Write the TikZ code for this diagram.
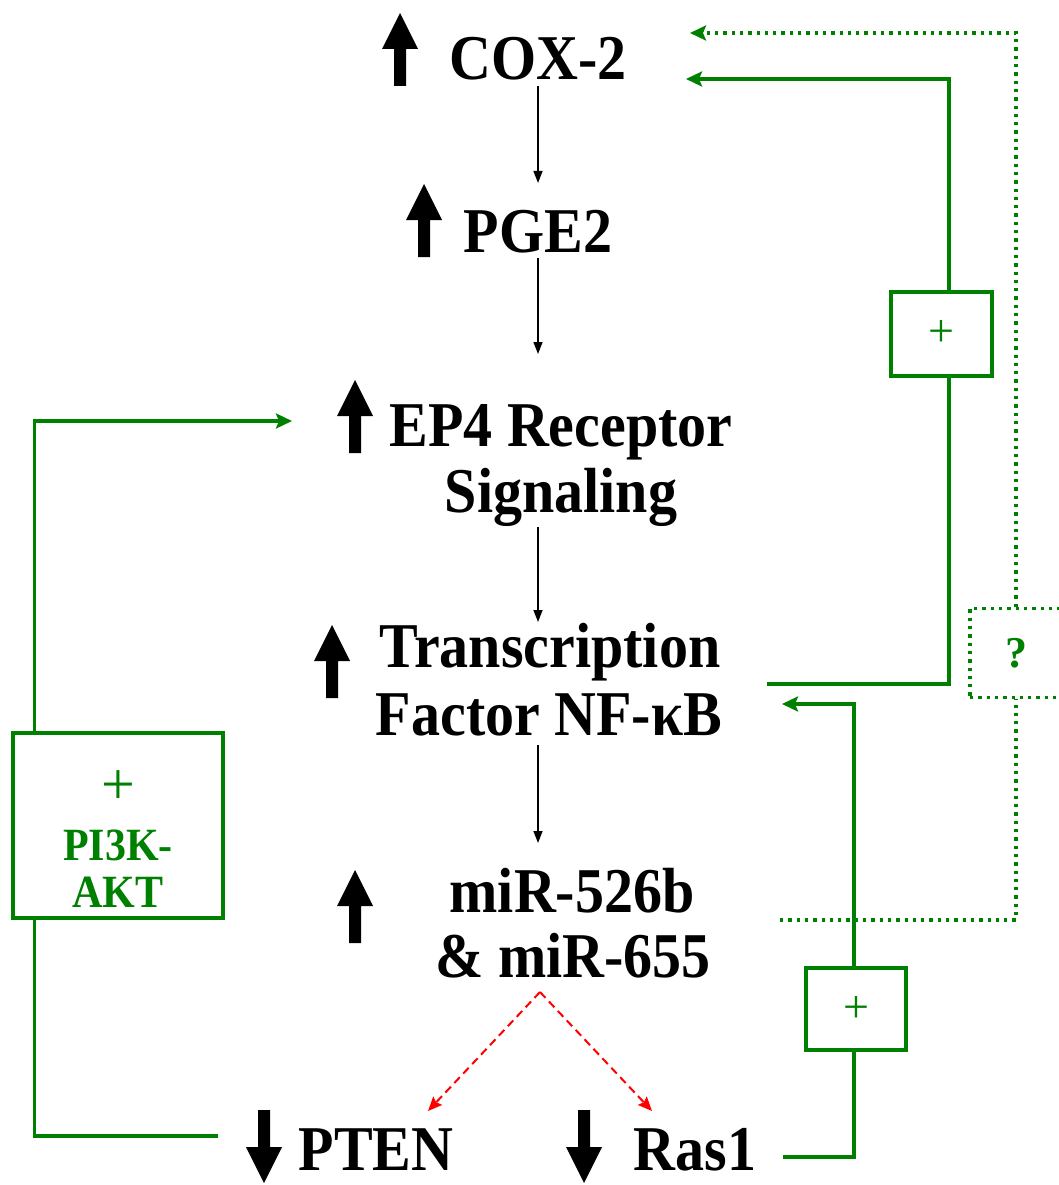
\documentclass[tikz,border=0pt]{standalone}
\usepackage{fontspec}
\setmainfont{Liberation Serif}
\usetikzlibrary{arrows.meta,calc}
\definecolor{gr}{RGB}{0,128,0}
\definecolor{rd}{RGB}{255,0,0}
\newcommand\vstr[1]{\scalebox{1}[1.1]{#1}}
\begin{document}
\begin{tikzpicture}[x=1pt,y=-1pt,
  lbl/.style={font=\fontsize{58}{66}\selectfont\bfseries, inner sep=0pt, anchor=base},
  gtxt/.style={font=\fontsize{42}{46}\selectfont\bfseries, text=gr, inner sep=0pt, anchor=base},
  flow/.style={draw=black, line width=1.5pt, -{Triangle[length=12pt,width=9pt]}},
  gline/.style={draw=gr, line width=3.5pt},
  garrow/.style={gline, -{Stealth[length=16pt,width=15pt,inset=3pt]}},
  gdot/.style={draw=gr, line width=3.3pt, dash pattern=on 3.3pt off 5pt},
  gbox/.style={draw=gr, line width=3.5pt, inner sep=0pt, text=gr},
  rarrow/.style={draw=rd, line width=2pt, dash pattern=on 8pt off 5pt, -{Stealth[length=14pt,width=12pt,inset=2pt]}},
  upblk/.pic={\fill[black] (-6,0) -- (-6,-37) -- (-18,-37) -- (0,-73) -- (18,-37) -- (6,-37) -- (6,0) -- cycle;},
  downblk/.pic={\fill[black] (-6,0) -- (-6,37) -- (-18,37) -- (0,73) -- (18,37) -- (6,37) -- (6,0) -- cycle;}
]
\useasboundingbox (0,0) rectangle (1059,1185);
\fill[white] (0,0) rectangle (1059,1185);

% labels
\node[lbl] (cox) at (538,80) {\vstr{COX-2}};
\node[lbl] (pge) at (538,252) {\vstr{PGE2}};
\node[lbl] (ep4a) at (561,446) {\vstr{EP4 Receptor}};
\node[lbl] (ep4b) at (561,512) {\vstr{Signaling}};
\node[lbl] (nfa) at (550,667) {\vstr{Transcription}};
\node[lbl] (nfb) at (549,735) {\vstr{Factor NF-κB}};
\node[lbl] (mira) at (572,912) {\vstr{miR-526b}};
\node[lbl] (mirb) at (573,977) {\vstr{\& miR-655}};
\node[lbl] (pten) at (376,1170) {\vstr{PTEN}};
\node[lbl] (ras) at (695,1170) {\vstr{Ras1}};

% block arrows
\pic at (400,86) {upblk};
\pic at (424,257) {upblk};
\pic at (355,453) {upblk};
\pic at (332,698) {upblk};
\pic at (355,943) {upblk};
\pic at (264,1110) {downblk};
\pic at (584,1110) {downblk};

% main chain
\draw[flow] ($(cox.base)+(0,6)$) -- ($(pge.base)+(0,-69)$);
\draw[flow] ($(pge.base)+(0,6)$) -- ($(ep4a.base)+(-23,-92)$);
\draw[flow] ($(ep4b.base)+(-23,15)$) -- ($(nfa.base)+(-12,-45)$);
\draw[flow] ($(nfb.base)+(-11,10)$) -- ($(mira.base)+(-34,-69)$);

% red dashed
\coordinate (split) at (540,992);
\coordinate (ptenT) at (428,1111);
\coordinate (rasT) at (652,1111);
\draw[rarrow] (split) -- (ptenT);
\draw[rarrow] (split) -- (rasT);

% boxes
\node[gbox, minimum width=210, minimum height=185] (pi3k) at (118,825.5) {};
\node[font=\fontsize{60}{60}\selectfont, text=gr, inner sep=0pt] (pl0) at (118,788) {+};
\node[gtxt] (pi3ka) at (118,860) {\vstr{PI3K-}};
\node[gtxt] (pi3kb) at (118,907) {\vstr{AKT}};
\node[gbox, minimum width=101, minimum height=84, font=\fontsize{46}{46}\selectfont] (pb1) at (941.5,334) {+};
\node[gbox, minimum width=100, minimum height=82, font=\fontsize{46}{46}\selectfont] (pb2) at (856,1009) {+};
\node[gdot, inner sep=0pt, text=gr, minimum width=92, minimum height=89, font=\fontsize{44}{44}\selectfont\bfseries] (qb) at (1016,653) {?};

% left loop
\coordinate (ptenL) at (218,1136);
\coordinate (ep4in) at (292,421);
\draw[gline] (ptenL) -| ([xshift=23pt]pi3k.south west);
\draw[garrow] ([xshift=23pt]pi3k.north west) |- (ep4in);

% right solid loop
\coordinate (nfR) at (767,684);
\coordinate (coxR) at (686,79);
\draw[gline] (nfR) -| ([xshift=7.5pt]pb1.south);
\draw[garrow] ([xshift=7.5pt]pb1.north) |- (coxR);

% dotted loop
\coordinate (mirR) at (780,920);
\coordinate (coxR2) at (690,33);
\draw[gdot] (mirR) -| (qb.south);
\draw[gdot, -{Stealth[length=16pt,width=15pt,inset=3pt]}] (qb.north) |- (coxR2);

% Ras loop
\coordinate (rasR) at (783,1157);
\coordinate (nfR2) at (782,704);
\draw[gline] (rasR) -| ([xshift=-2pt]pb2.south);
\draw[garrow] ([xshift=-2pt]pb2.north) |- (nfR2);
\end{tikzpicture}
\end{document}
